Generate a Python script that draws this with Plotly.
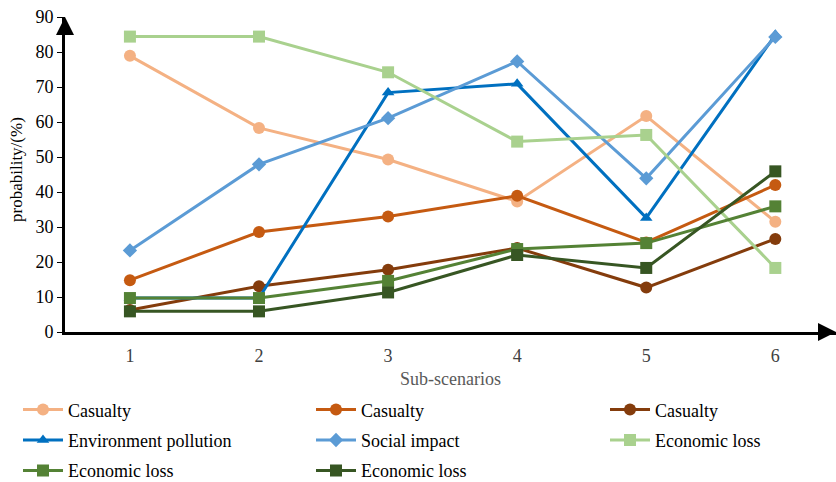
import plotly.graph_objects as go

scenarios = [1, 2, 3, 4, 5, 6]

casualty_a = [78.9, 58.3, 49.3, 37.3, 61.7, 31.5]
casualty_b = [14.8, 28.6, 33.0, 38.9, 25.6, 42.0]
casualty_c = [6.3, 13.1, 17.8, 24.0, 12.7, 26.6]
env_pollution = [9.7, 9.7, 68.4, 70.9, 32.6, 84.9]
social_impact = [23.3, 47.9, 61.1, 77.3, 43.9, 84.3]
econ_a = [84.4, 84.4, 74.2, 54.4, 56.3, 18.3]
econ_b = [9.7, 9.7, 14.6, 23.7, 25.4, 35.9]
econ_c = [5.9, 5.9, 11.3, 22.0, 18.3, 45.9]

# (name, values, colour, marker, marker size, legend column)
series = [
    ("Casualty", casualty_a, "#F4B183", "circle", 12, "legend"),
    ("Casualty", casualty_b, "#C55A11", "circle", 12, "legend2"),
    ("Casualty", casualty_c, "#843C0C", "circle", 12, "legend3"),
    ("Environment pollution", env_pollution, "#0070C0", "triangle-up", 11, "legend"),
    ("Social impact", social_impact, "#5B9BD5", "diamond", 11, "legend2"),
    ("Economic loss", econ_a, "#A9D18E", "square", 12, "legend3"),
    ("Economic loss", econ_b, "#548235", "square", 12, "legend"),
    ("Economic loss", econ_c, "#375623", "square", 12, "legend2"),
]

fig = go.Figure()
for i, (name, vals, color, symbol, size, leg) in enumerate(series):
    fig.add_trace(go.Scatter(
        x=scenarios, y=vals, name=name, mode="lines+markers",
        line=dict(color=color, width=3),
        marker=dict(color=color, symbol=symbol, size=size),
        legend=leg, legendgroup=f"g{i}",
    ))

font_family = "Liberation Serif"


def legend_box(xpx):
    return dict(
        orientation="v", xref="container", yref="container",
        x=xpx / 836, y=0.188, xanchor="left", yanchor="top",
        font=dict(family=font_family, size=18, color="#000000"),
        itemwidth=40, tracegroupgap=4, bgcolor="rgba(0,0,0,0)",
    )


fig.update_layout(
    width=836, height=482,
    margin=dict(l=65, r=0, t=17, b=150, autoexpand=False),
    paper_bgcolor="white", plot_bgcolor="white",
    font=dict(family=font_family, size=18, color="#000000"),
    showlegend=True,
    legend=legend_box(18),
    legend2=legend_box(311),
    legend3=legend_box(605),
    xaxis=dict(
        range=[0.497, 6.47], tickvals=scenarios,
        ticktext=[str(s) for s in scenarios],
        showgrid=False, zeroline=False,
        showline=True, linecolor="#000000", linewidth=3,
        ticks="", ticklabelstandoff=5,
        tickfont=dict(family=font_family, color="#404040", size=18),
        title=dict(text="Sub-scenarios", font=dict(family=font_family, color="#595959", size=18), standoff=8),
    ),
    yaxis=dict(
        range=[0, 90], dtick=10,
        showgrid=False, zeroline=False,
        showline=True, linecolor="#000000", linewidth=3,
        ticks="outside", ticklen=5, tickwidth=1, tickcolor="#000000",
        tickfont=dict(family=font_family, color="#000000", size=18),
    ),
)

# y-axis title, placed beside the tick labels
fig.add_annotation(text="probability/(%)", textangle=-90,
                   xref="paper", yref="paper", x=(16 - 65) / 771, y=(332 - 170) / 315,
                   xanchor="center", yanchor="middle", showarrow=False,
                   font=dict(family=font_family, color="#000000", size=17))

# arrowheads at the ends of both axes
fig.add_annotation(x=0.497, y=90, xref="x", yref="y", ax=0, ay=14,
                   text="", showarrow=True, arrowhead=2, arrowsize=1.2,
                   arrowwidth=3, arrowcolor="#000000", standoff=0)
fig.add_annotation(x=6.47, y=0, xref="x", yref="y", ax=-14, ay=0,
                   text="", showarrow=True, arrowhead=2, arrowsize=1.2,
                   arrowwidth=3, arrowcolor="#000000", standoff=0)

fig.write_html("out.html")
